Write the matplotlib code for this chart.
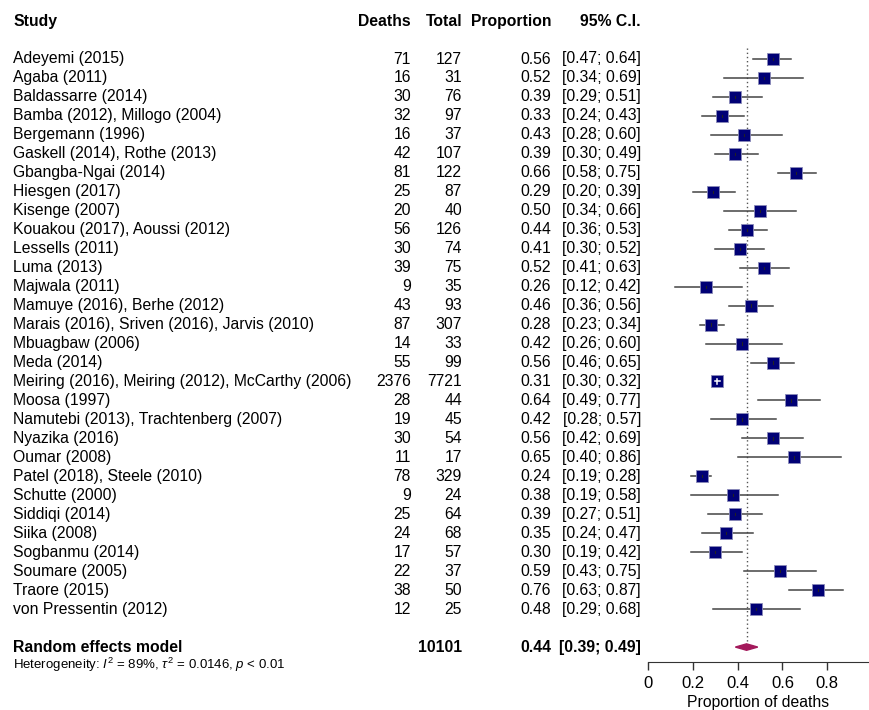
import matplotlib.pyplot as plt
import numpy as np

plt.rcParams['font.family'] = ['Liberation Sans', 'DejaVu Sans']
plt.rcParams['mathtext.fontset'] = 'custom'
plt.rcParams['mathtext.rm'] = 'Liberation Sans'
plt.rcParams['mathtext.it'] = 'Liberation Sans:italic'

# data
studies = [
    "Adeyemi (2015)", "Agaba (2011)", "Baldassarre (2014)",
    "Bamba (2012), Millogo (2004)", "Bergemann (1996)",
    "Gaskell (2014), Rothe (2013)", "Gbangba-Ngai (2014)", "Hiesgen (2017)",
    "Kisenge (2007)", "Kouakou (2017), Aoussi (2012)", "Lessells (2011)",
    "Luma (2013)", "Majwala (2011)", "Mamuye (2016), Berhe (2012)",
    "Marais (2016), Sriven (2016), Jarvis (2010)", "Mbuagbaw (2006)",
    "Meda (2014)", "Meiring (2016), Meiring (2012), McCarthy (2006)",
    "Moosa (1997)", "Namutebi (2013), Trachtenberg (2007)", "Nyazika (2016)",
    "Oumar (2008)", "Patel (2018), Steele (2010)", "Schutte (2000)",
    "Siddiqi (2014)", "Siika (2008)", "Sogbanmu (2014)", "Soumare (2005)",
    "Traore (2015)", "von Pressentin (2012)",
]
deaths = [71, 16, 30, 32, 16, 42, 81, 25, 20, 56, 30, 39, 9, 43, 87, 14, 55,
          2376, 28, 19, 30, 11, 78, 9, 25, 24, 17, 22, 38, 12]
totals = [127, 31, 76, 97, 37, 107, 122, 87, 40, 126, 74, 75, 35, 93, 307, 33,
          99, 7721, 44, 45, 54, 17, 329, 24, 64, 68, 57, 37, 50, 25]
prop = [0.56, 0.52, 0.39, 0.33, 0.43, 0.39, 0.66, 0.29, 0.50, 0.44, 0.41,
        0.52, 0.26, 0.46, 0.28, 0.42, 0.56, 0.31, 0.64, 0.42, 0.56, 0.65,
        0.24, 0.38, 0.39, 0.35, 0.30, 0.59, 0.76, 0.48]
lower = [0.47, 0.34, 0.29, 0.24, 0.28, 0.30, 0.58, 0.20, 0.34, 0.36, 0.30,
         0.41, 0.12, 0.36, 0.23, 0.26, 0.46, 0.30, 0.49, 0.28, 0.42, 0.40,
         0.19, 0.19, 0.27, 0.24, 0.19, 0.43, 0.63, 0.29]
upper = [0.64, 0.69, 0.51, 0.43, 0.60, 0.49, 0.75, 0.39, 0.66, 0.53, 0.52,
         0.63, 0.42, 0.56, 0.34, 0.60, 0.65, 0.32, 0.77, 0.57, 0.69, 0.86,
         0.28, 0.58, 0.51, 0.47, 0.42, 0.75, 0.87, 0.68]
pooled_total = 10101
pooled = 0.44
pooled_lo, pooled_hi = 0.39, 0.49
het_text = r'Heterogeneity: $I^2$ = 89%, $\tau^2$ = 0.0146, $p$ < 0.01'

W, H = 869, 710
row0, dy = 59, 18.97           # pixel centre of first row, row spacing
r_top = -row0 / dy
r_axis = (662 - row0) / dy
r_bot = (H - row0) / dy
fs = 11.3

fig = plt.figure(figsize=(W / 100, H / 100), dpi=100)

# text columns (x in pixels, y in rows)
ax_t = fig.add_axes([0, 0, 1, 1])
ax_t.set_xlim(0, W)
ax_t.set_ylim(r_bot, r_top)
ax_t.axis('off')

hdr = -2
ax_t.text(13, hdr, "Study", fontsize=fs, fontweight='bold', va='center')
for x, s in [(411, "Deaths"), (462, "Total"), (551, "Proportion"), (641, "95% C.I.")]:
    ax_t.text(x, hdr, s, fontsize=fs, fontweight='bold', va='center', ha='right')

for i, name in enumerate(studies):
    ax_t.text(13, i, name, fontsize=fs, va='center')
    ax_t.text(411, i, str(deaths[i]), fontsize=fs, va='center', ha='right')
    ax_t.text(462, i, str(totals[i]), fontsize=fs, va='center', ha='right')
    ax_t.text(551, i, f"{prop[i]:.2f}", fontsize=fs, va='center', ha='right')
    ax_t.text(641, i, f"[{lower[i]:.2f}; {upper[i]:.2f}]", fontsize=fs,
              va='center', ha='right')

r_pool = len(studies) + 1
ax_t.text(13, r_pool, "Random effects model", fontsize=fs, fontweight='bold', va='center')
ax_t.text(462, r_pool, str(pooled_total), fontsize=fs, fontweight='bold', va='center', ha='right')
ax_t.text(551, r_pool, f"{pooled:.2f}", fontsize=fs, fontweight='bold', va='center', ha='right')
ax_t.text(641, r_pool, f"[{pooled_lo:.2f}; {pooled_hi:.2f}]", fontsize=fs,
          fontweight='bold', va='center', ha='right')
ax_t.text(13, r_pool + 0.95, het_text, fontsize=9.5, va='center')

# forest panel
ax = fig.add_axes([648 / W, 1 - 662 / H, (W - 648) / W, 662 / H])
ax.set_xlim(0, (W - 648) / 224)
ax.set_ylim(r_axis, r_top)
for s in ['top', 'right', 'left']:
    ax.spines[s].set_visible(False)
ax.spines['bottom'].set_color('#333333')
ax.set_yticks([])
ax.set_xticks([0, 0.2, 0.4, 0.6, 0.8])
ax.set_xticklabels(['0', '0.2', '0.4', '0.6', '0.8'], fontsize=12)
ax.tick_params(axis='x', length=6, width=1, color='#333333', pad=4)
ax.set_xlabel("Proportion of deaths", fontsize=fs, labelpad=3)

ax.plot([pooled, pooled], [-0.6, r_pool], ls=(0, (1, 2)), color='#555555', lw=1)

ys = np.arange(len(studies))
for i in ys:
    inside = (prop[i] - lower[i]) < 0.03 and (upper[i] - prop[i]) < 0.03
    ax.plot(prop[i], i, 's', ms=8.8, mfc='#000075', mec='#8a8ab8', mew=0.6, zorder=3)
    lc = 'white' if inside else '#444444'
    ax.plot([lower[i], upper[i]], [i, i], color=lc, lw=1.1, zorder=4 if inside else 2)
    if inside:
        ax.plot([prop[i], prop[i]], [i - 0.15, i + 0.15], color='white', lw=1.1, zorder=4)
    else:
        ax.plot([prop[i], prop[i]], [i - 0.06, i + 0.06], color='#222222', lw=0.8, zorder=4)

ax.fill([pooled_lo, pooled, pooled_hi, pooled],
        [r_pool, r_pool - 0.17, r_pool, r_pool + 0.17],
        color='#a3195b', zorder=3)

fig.savefig('out.png', dpi=100)
